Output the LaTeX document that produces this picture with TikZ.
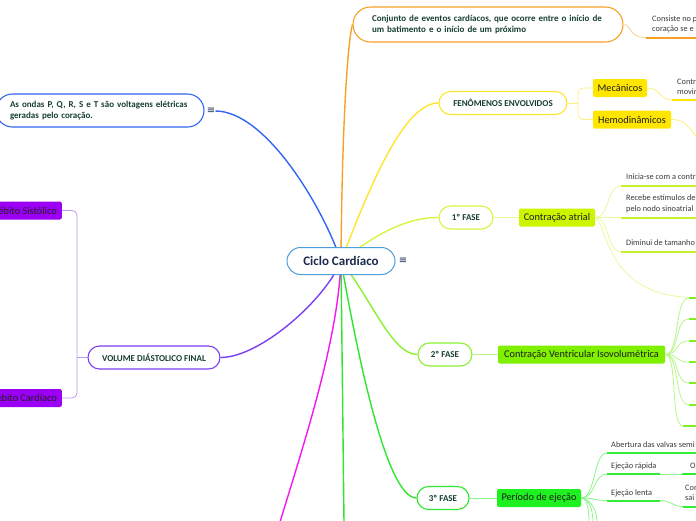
\documentclass[tikz,border=0pt]{standalone}
\usepackage{fontspec}
\setmainfont{Carlito}
\newfontfamily\iconfont{DejaVu Sans}
\usetikzlibrary{backgrounds}
\frenchspacing

\definecolor{rootblue}{HTML}{4F9DD9}
\definecolor{rootink}{HTML}{1B2A4E}
\definecolor{topicink}{HTML}{173F2E}
\definecolor{subink}{HTML}{1E1E1E}
\definecolor{leafink}{HTML}{3A3A3A}
\definecolor{orangeL}{HTML}{F5A226}
\definecolor{orangeT}{HTML}{FAD08F}
\definecolor{yellowL}{HTML}{FFE42E}
\definecolor{yellowF}{HTML}{FFE600}
\definecolor{yellowT}{HTML}{FFEE80}
\definecolor{limeL}{HTML}{D6F542}
\definecolor{limeF}{HTML}{CCF500}
\definecolor{limeT}{HTML}{E6FA9E}
\definecolor{limeU}{HTML}{C8F02E}
\definecolor{chartL}{HTML}{8CF032}
\definecolor{chartF}{HTML}{7FF000}
\definecolor{chartT}{HTML}{B8F58A}
\definecolor{chartU}{HTML}{80F020}
\definecolor{greenL}{HTML}{2EE62E}
\definecolor{greenF}{HTML}{1FF01F}
\definecolor{greenT}{HTML}{8AF58A}
\definecolor{greenU}{HTML}{33EE33}
\definecolor{purpleL}{HTML}{7B3FF2}
\definecolor{purpleF}{HTML}{9B00F5}
\definecolor{purpleT}{HTML}{B99AF5}
\definecolor{magentaL}{HTML}{F516F0}
\definecolor{blueL}{HTML}{3366F0}

\tikzset{
  rootbox/.style={draw=rootblue, fill=white, line width=1pt, rounded corners=13.5pt,
    minimum width=108pt, minimum height=27pt, inner sep=0pt,
    font=\fontsize{13}{15}\selectfont\bfseries, text=rootink},
  topicbox/.style={draw=#1, fill=white, line width=1.1pt, rounded corners=11.5pt,
    minimum height=23pt, inner sep=0pt, font=\fontsize{9}{11}\selectfont\bfseries, text=topicink},
  notebox/.style={topicbox=#1, align=left, inner xsep=19pt},
  subbox/.style={fill=#1, rounded corners=2pt, minimum height=18pt, inner xsep=4pt, inner ysep=0pt,
    font=\fontsize{10.3}{12}\selectfont, text=subink},
  leaftext/.style={anchor=west, align=left, inner sep=0pt,
    font=\fontsize{8.3}{10.5}\selectfont, text=leafink},
  menuicon/.style={inner sep=0pt, font=\iconfont\fontsize{10}{10}\selectfont, text=rootink},
  branch/.style={draw=#1, line width=1.4pt},
  twig/.style={draw=#1, line width=0.8pt},
  underline/.style={draw=#1, line width=2pt},
}

\begin{document}
\begin{tikzpicture}[x=1pt,y=-1pt]
\path[use as bounding box] (0,0) rectangle (696,520);

% centre and notes
\node[rootbox] (ciclo) at (341,261) {Ciclo Cardíaco};
\node[menuicon] (ciclomenu) at (403,261) {≡};
\node[notebox=orangeL, text width=232pt, minimum height=35pt, rounded corners=17.5pt] (conj) at (488,24.5)
  {Conjunto de eventos cardíacos, que ocorre entre o início de\\um batimento e o início de um próximo};
\node[leaftext] (consiste) at (652,24.5) {Consiste no p\\coração se e};
\node[notebox=blueL, text width=180pt, inner xsep=14pt, minimum height=33pt, rounded corners=16.5pt] (ondas) at (100,110.5)
  {As ondas P, Q, R, S e T são voltagens elétricas\\geradas pelo coração.};
\node[menuicon] (ondasmenu) at (211,111) {≡};

% topics
\node[topicbox=yellowL, minimum width=128pt] (fen) at (503,103) {FENÔMENOS ENVOLVIDOS};
\node[subbox=yellowF, minimum width=54pt] (mec) at (620,88) {Mecânicos};
\node[subbox=yellowF, minimum width=78pt] (hemo) at (632,119.5) {Hemodinâmicos};
\node[leaftext] (contr) at (677,87) {Contr\\movin};

\node[topicbox=limeL, minimum width=54pt] (fase1) at (466,217.5) {1º FASE};
\node[subbox=limeF, minimum width=76pt] (atrial) at (557,217.5) {Contração atrial};
\node[leaftext] (inicia) at (626,177) {Inicia-se com a contr};
\node[leaftext] (recebe) at (626,204) {Recebe estímulos de\\pelo nodo sinoatrial};
\node[leaftext] (diminui) at (626,243) {Diminui de tamanho};

\node[topicbox=chartL, minimum width=54pt] (fase2) at (445,354.5) {2º FASE};
\node[subbox=chartF, minimum width=167pt] (isovol) at (581.5,354.5) {Contração Ventricular Isovolumétrica};

\node[topicbox=greenL, minimum width=52pt] (fase3) at (443,498) {3º FASE};
\node[subbox=greenF, minimum width=84pt] (ejecao) at (539,498) {Período de ejeção};
\node[leaftext] (abertura) at (611,445) {Abertura das valvas semi};
\node[leaftext] (rapida) at (611,466) {Ejeção rápida};
\node[leaftext] (otext) at (690,466) {O};
\node[leaftext] (lenta) at (611,493) {Ejeção lenta};
\node[leaftext] (con) at (685,493) {Con\\sai};

\node[topicbox=purpleL, minimum width=132pt] (volume) at (154,357.5) {VOLUME DIÁSTOLICO FINAL};
\node[subbox=purpleF, anchor=east, inner xsep=5pt] (sistolico) at (62,210.5) {Débito Sistólico};
\node[subbox=purpleF, anchor=east, inner xsep=5pt] (cardiaco) at (62,398) {Débito Cardíaco};

\coordinate (greenend) at (344,522);
\coordinate (magentaend) at (280,522);

% main branches
\begin{scope}[on background layer]
\draw[branch=orangeL] (ciclo.center) .. controls (342,120) and (348,40) .. (conj.west);
\draw[branch=blueL] (ondasmenu.east) .. controls (265,111) and (322,205) .. (ciclo.center);
\draw[branch=yellowL] (ciclo.center) .. controls (372,180) and (405,103) .. (fen.west);
\draw[branch=limeL] (ciclo.center) .. controls (375,235) and (405,217.5) .. (fase1.west);
\draw[branch=chartL] (ciclo.center) .. controls (372,300) and (392,354.5) .. (fase2.west);
\draw[branch=greenL] (ciclo.center) .. controls (355,340) and (385,498) .. (fase3.west);
\draw[branch=greenL] (ciclo.center) -- (greenend);
\draw[branch=magentaL] (ciclo.center) .. controls (338,340) and (305,440) .. (magentaend);
\draw[branch=purpleL] (ciclo.center) .. controls (325,300) and (260,357.5) .. (volume.east);
\end{scope}

% orange note
\coordinate (consL) at (646,37.5);
\coordinate (consR) at (696,37.5);
\draw[twig=orangeT] (conj.east) .. controls (632,24.5) and (628,37.5) .. (consL);
\draw[underline=orangeL] (consL) -- (consR);

% fenomenos
\coordinate (fenjoint) at (578,103);
\draw[twig=yellowT] (fen.east) -- (fenjoint);
\draw[twig=yellowT, rounded corners=5pt] (mec.west) -| (fenjoint) |- (hemo.west);
\coordinate (mecL) at (672,100);
\coordinate (mecR) at (696,100);
\draw[twig=yellowT] (mec.east) .. controls (660,88) and (660,100) .. (mecL);
\draw[underline=yellowF] (mecL) -- (mecR);
\coordinate (hemoD) at (697,137);
\draw[twig=yellowT] (hemo.east) .. controls (684,119.5) and (686,124) .. (hemoD);

% 1a fase
\draw[twig=limeT] (fase1) -- (atrial);
\coordinate (iniciaL) at (621,186);
\coordinate (iniciaR) at (696,186);
\coordinate (recebeL) at (621,217.5);
\coordinate (recebeR) at (696,217.5);
\coordinate (diminuiL) at (621,251.5);
\coordinate (diminuiR) at (696,251.5);
\coordinate (atrialD) at (696,297.5);
\draw[twig=limeT] (atrial.east) .. controls (610,217.5) and (606,186) .. (iniciaL);
\draw[twig=limeT] (atrial.east) -- (recebeL);
\draw[twig=limeT] (atrial.east) .. controls (610,217.5) and (606,251.5) .. (diminuiL);
\draw[twig=limeT] (atrial.east) .. controls (608,225) and (605,297.5) .. (atrialD);
\draw[underline=limeU] (iniciaL) -- (iniciaR);
\draw[underline=limeU] (recebeL) -- (recebeR);
\draw[underline=limeU] (diminuiL) -- (diminuiR);

% 2a fase
\draw[twig=chartT] (fase2) -- (isovol);
\foreach \y [count=\i] in {298,319,341,362,383,405}{
  \coordinate (isoL\i) at (689,\y);
  \coordinate (isoR\i) at (697,\y);
  \draw[twig=chartT] (isovol.east) .. controls (680,354.5) and (674,\y) .. (isoL\i);
  \draw[underline=chartU] (isoL\i) -- (isoR\i);
}
\coordinate (isoL7) at (683,426);
\coordinate (isoR7) at (697,426);
\draw[twig=chartT] (isovol.east) .. controls (678,354.5) and (670,426) .. (isoL7);
\draw[underline=chartU] (isoL7) -- (isoR7);

% 3a fase
\draw[twig=greenT] (fase3) -- (ejecao);
\coordinate (abertL) at (607,453);
\coordinate (abertR) at (697,453);
\coordinate (rapidaL) at (607,474);
\coordinate (rapidaM) at (660,474);
\coordinate (oL) at (682,474);
\coordinate (oR) at (697,474);
\coordinate (lentaL) at (607,500.5);
\coordinate (lentaM) at (660,500.5);
\coordinate (conL) at (683,506.5);
\coordinate (conR) at (697,506.5);
\draw[twig=greenT] (ejecao.east) .. controls (596,498) and (593,453) .. (abertL);
\draw[twig=greenT] (ejecao.east) .. controls (596,498) and (593,474) .. (rapidaL);
\draw[twig=greenT] (ejecao.east) .. controls (596,498) and (593,500.5) .. (lentaL);
\foreach \x [count=\i] in {589,593,597}{
  \coordinate (ejbot\i) at (\x,522);
  \draw[twig=greenT] (ejecao.east) .. controls (586,498) and (\x,505) .. (ejbot\i);
}
\draw[underline=greenU] (abertL) -- (abertR);
\draw[underline=greenU] (rapidaL) -- (rapidaM);
\draw[twig=greenT] (rapidaM) -- (oL);
\draw[underline=greenU] (oL) -- (oR);
\draw[underline=greenU] (lentaL) -- (lentaM);
\draw[twig=greenT] (lentaM) .. controls (672,500.5) and (672,506.5) .. (conL);
\draw[underline=greenU] (conL) -- (conR);

% volume diastolico
\coordinate (voljoint) at (77,357.5);
\draw[twig=purpleT] (volume.west) -- (voljoint);
\draw[twig=purpleT, rounded corners=5pt] (sistolico.east) -| (voljoint) |- (cardiaco.east);
\end{tikzpicture}
\end{document}
